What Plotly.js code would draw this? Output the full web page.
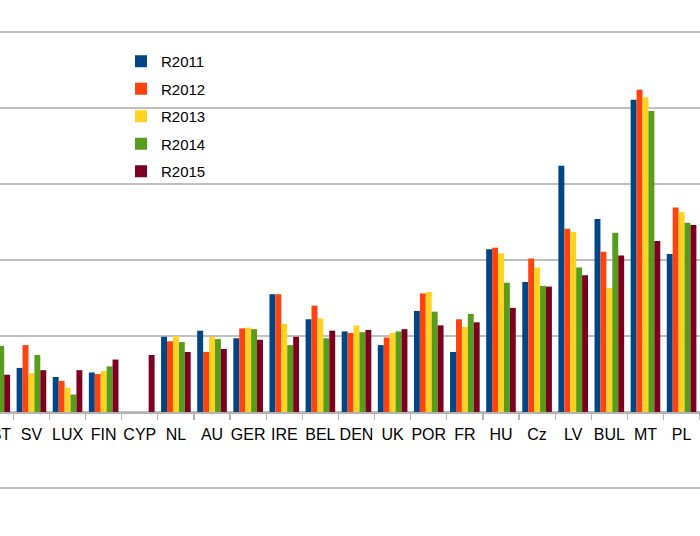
<!DOCTYPE html>
<html>
<head>
<meta charset="utf-8">
<script src="https://cdn.plot.ly/plotly-3.0.1.min.js"></script>
<style>
html,body{margin:0;padding:0;background:#fff;}
#chart{width:700px;height:536px;}
</style>
</head>
<body>
<div id="chart"></div>
<script>
const categories = ['EST','SV','LUX','FIN','CYP','NL','AU','GER','IRE','BEL','DEN','UK','POR','FR','HU','Cz','LV','BUL','MT','PL'];
const seriesNames = ['R2011','R2012','R2013','R2014','R2015'];
const R2011 = [null,0.58,0.46,0.52,null,0.99,1.07,0.97,1.55,1.22,1.06,0.88,1.33,0.79,2.14,1.71,3.24,2.54,4.11,2.08];
const R2012 = [null,0.88,0.41,0.50,null,0.93,0.79,1.10,1.55,1.40,1.04,0.98,1.56,1.22,2.16,2.02,2.41,2.11,4.24,2.69];
const R2013 = [null,0.51,0.32,0.54,null,1.00,0.99,1.11,1.16,1.23,1.14,1.04,1.58,1.12,2.09,1.90,2.37,1.63,4.14,2.63];
const R2014 = [0.87,0.75,0.23,0.60,null,0.92,0.96,1.09,0.88,0.97,1.05,1.06,1.32,1.29,1.70,1.66,1.90,2.36,3.96,2.49];
const R2015 = [0.49,0.55,0.55,0.69,0.75,0.79,0.83,0.95,0.99,1.07,1.08,1.09,1.14,1.18,1.37,1.65,1.80,2.06,2.25,2.46];
const seriesValues = [R2011, R2012, R2013, R2014, R2015];
const colors = ['#004586','#ff420e','#ffd320','#579d1c','#7e0021'];

const W = 700, H = 536;
const FONT = 'Liberation Sans, Arial, sans-serif';

const traces = seriesNames.map((name, i) => ({
  type: 'bar',
  name: name,
  x: categories,
  y: seriesValues[i],
  marker: {color: colors[i]},
  legendgroup: name,
  hoverinfo: 'x+y+name'
}));

const layout = {
  width: W,
  height: H,
  margin: {l: 0, r: 0, t: 0, b: 0, pad: 0},
  paper_bgcolor: '#ffffff',
  plot_bgcolor: '#ffffff',
  barmode: 'group',
  bargap: 0.18,
  bargroupgap: 0,
  font: {family: FONT, size: 16, color: '#000000'},
  showlegend: true,
  legend: {
    x: 121 / W, xanchor: 'left',
    y: 1 - 45 / H, yanchor: 'top',
    bgcolor: 'rgba(0,0,0,0)',
    borderwidth: 0,
    font: {family: FONT, size: 15, color: '#000000'},
    traceorder: 'grouped',
    tracegroupgap: 5,
    itemwidth: 30
  },
  xaxis: {
    type: 'category',
    range: [0.13, 19.51],
    autorange: false,
    anchor: 'free',
    position: 124 / H,
    tickson: 'boundaries',
    ticks: 'outside',
    ticklen: 6,
    tickwidth: 1.3,
    tickcolor: '#b3b3b3',
    tickangle: 0,
    ticklabelstandoff: 7,
    showline: true,
    linecolor: '#b3b3b3',
    linewidth: 1.5,
    showgrid: false,
    zeroline: false,
    tickfont: {family: FONT, size: 16, color: '#000000'}
  },
  yaxis: {
    range: [-124 / 76, 412 / 76],
    autorange: false,
    tick0: 0,
    dtick: 1,
    showticklabels: false,
    ticks: '',
    showgrid: true,
    gridcolor: '#c0c0c0',
    gridwidth: 1.5,
    zeroline: false,
    showline: false
  },
  annotations: [{
    xref: 'paper', yref: 'paper',
    x: 13 / W, xanchor: 'right',
    y: 1 - 434 / H, yanchor: 'middle',
    text: categories[0],
    showarrow: false,
    font: {family: FONT, size: 16, color: '#000000'}
  }]
};

Plotly.newPlot('chart', traces, layout, {displayModeBar: false, staticPlot: true});
</script>
</body>
</html>
